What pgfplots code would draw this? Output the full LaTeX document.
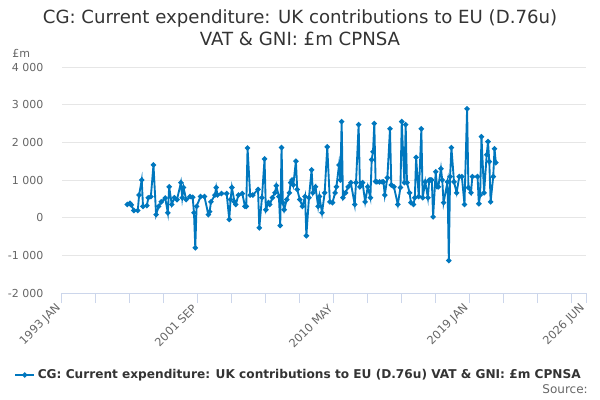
\documentclass[border=0pt]{standalone}
\usepackage{fontspec}
\setmainfont{DejaVu Sans}
\usepackage{pgfplots}
\pgfplotsset{compat=1.18}
\definecolor{series}{RGB}{0,119,190}
\definecolor{gridc}{RGB}{230,230,230}
\definecolor{axc}{RGB}{204,214,235}
\definecolor{lab}{RGB}{102,102,102}
\definecolor{tit}{RGB}{51,51,51}
\begin{document}
\begin{tikzpicture}[x=1pt,y=1pt]
\path[use as bounding box] (0,0) rectangle (450,300);
\node[anchor=base,text=tit,font=\fontsize{13.6}{16}\selectfont] at (225,282) {CG: Current expenditure: UK contributions to EU (D.76u)};
\node[anchor=base,text=tit,font=\fontsize{13.6}{16}\selectfont] at (225,265.5) {VAT \& GNI: £m CPNSA};
\node[anchor=base west,inner sep=0,text=lab,font=\fontsize{8.25}{10}\selectfont] at (9,256.5) {£m};
\node[anchor=base east,inner sep=0,text=lab,font=\fontsize{9}{11}\selectfont] at (441,5) {Source:};
\begin{axis}[
  at={(46.5pt,80.25pt)}, anchor=south west,
  scale only axis, width=393pt, height=169.5pt,
  xmin=0, xmax=401, ymin=-2000, ymax=4000,
  axis x line*=bottom, axis y line*=left,
  x axis line style={draw=axc, line width=0.75pt, -},
  y axis line style={draw=none},
  ymajorgrids, grid style={draw=gridc, line width=0.75pt},
  tick align=outside,
  major tick length=7.5pt, minor tick length=7.5pt,
  x tick style={draw=axc, line width=0.75pt},
  y tick style={draw=none},
  xtick={0,104,208,312,401},
  minor xtick={26,52,78,130,156,182,234,260,286,338,364,390},
  xticklabels={1993 JAN,2001 SEP,2010 MAY,2019 JAN,2026 JUN},
  xticklabel style={rotate=45, anchor=east, text=lab, font=\fontsize{8.5}{10}\selectfont},
  ytick={-2000,-1000,0,1000,2000,3000,4000},
  yticklabels={-2 000,-1 000,0,1 000,2 000,3 000,4 000},
  yticklabel style={text=lab, font=\fontsize{8.25}{10}\selectfont, xshift=-3pt},
  legend style={at={(0.452,-0.363)}, anchor=center, draw=none, fill=none,
    font=\bfseries\fontsize{9.1}{11}\selectfont, text=tit},
  legend image code/.code={\draw[mark repeat=2,mark phase=2] plot coordinates {(0cm,0cm)(0.25cm,0cm)(0.5cm,0cm)};},
]
\addplot[series, line width=1.4pt, mark=*, mark size=1.2pt, mark options={fill=series, draw=series}] coordinates {
(50,350)(52,380)(53,340)(55,190)(58,190)(59,600)(61,1000)(62,300)(65,320)(66,530)
(68,560)(70,1400)(72,80)(74,300)(76,420)(79,520)(81,130)(82,820)(84,350)(86,530)
(88,480)(91,930)(92,530)(93,800)(95,480)(98,560)(100,540)(101,130)(102,-800)(103,300)
(106,560)(109,560)(112,80)(113,160)(114,420)(117,600)(118,800)(119,600)(122,640)(126,640)
(128,-50)(129,480)(130,800)(132,420)(133,350)(135,600)(138,640)(140,300)(141,300)(142,1850)
(144,600)(146,600)(150,750)(151,-270)(153,530)(155,1560)(156,210)(158,400)(159,350)(161,530)
(163,660)(164,850)(166,560)(167,-210)(168,1860)(169,400)(170,210)(172,480)(174,660)(175,930)
(176,1000)(177,870)(179,1500)(180,750)(182,480)(184,300)(186,560)(187,-480)(189,530)(191,1270)
(192,660)(194,820)(196,300)(197,560)(199,130)(201,660)(203,1880)(205,420)(207,400)(209,660)
(210,820)(212,1400)(213,1000)(214,2550)(215,530)(217,660)(219,820)(221,930)(224,350)(225,930)
(227,2470)(228,820)(230,930)(232,420)(234,820)(236,530)(237,1540)(238,1750)(239,2500)(240,960)
(241,950)(243,950)(245,950)(246,950)(247,600)(249,1060)(251,2360)(252,870)(254,820)(257,350)
(259,800)(260,2550)(262,930)(263,2470)(264,930)(266,660)(267,400)(269,350)(270,530)(271,1600)
(273,560)(275,2360)(276,530)(278,950)(280,530)(281,1000)(282,1000)(283,1000)(284,20)(286,1220)
(287,820)(288,820)(290,1300)(291,1000)(292,400)(295,950)(296,-1140)(297,1090)(298,1860)(300,950)
(302,660)(304,1090)(306,1090)(308,350)(310,2890)(311,800)(313,660)(314,1090)(318,1090)(319,370)
(320,600)(321,2150)(323,660)(325,1670)(326,2020)(327,1490)(328,420)(330,1090)(331,1830)(332,1460)
};
\addlegendentry{CG: Current expenditure: UK contributions to EU (D.76u) VAT \& GNI: £m CPNSA}
\end{axis}
\end{tikzpicture}
\end{document}
